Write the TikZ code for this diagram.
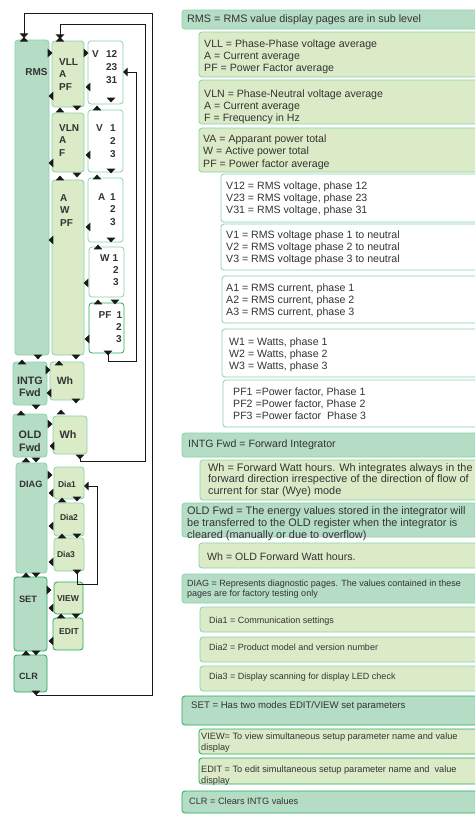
\documentclass[tikz,border=0pt]{standalone}
\usepackage{fontspec}
\setmainfont{Liberation Sans}
\usetikzlibrary{arrows.meta,calc}
\definecolor{dkg}{HTML}{B5DCC5}
\definecolor{ltg}{HTML}{DCEBC7}
\definecolor{bdl}{HTML}{86D4A8}
\definecolor{bdd}{HTML}{22AD5C}
\definecolor{txt}{HTML}{333333}
\newcommand\mybox[6]{\node[#2,anchor=north west,minimum width={(#5-#3)*1pt},minimum height={(#6-#4)*1pt},inner sep=0pt,outer sep=0pt] (#1) at (#3,#4) {};}
\tikzset{
  box/.style={rounded corners=3pt,line width=0.8pt},
  dkbox/.style={box,fill=dkg,draw=bdl},
  ltbox/.style={box,fill=ltg,draw=bdl},
  whbox/.style={box,fill=white,draw=bdl},
  dkboxb/.style={box,fill=dkg,draw=bdd},
  ltboxb/.style={box,fill=ltg,draw=bdd},
  whboxb/.style={box,fill=white,draw=bdd},
  rt/.style={font=\fontsize{10.6}{12}\selectfont,text=txt,inner sep=0pt,align=left},
  rs/.style={font=\fontsize{9}{10.5}\selectfont,text=txt,inner sep=0pt,align=left},
  lt/.style={font=\bfseries\fontsize{10}{12.5}\selectfont,text=txt,inner sep=0pt},
  conn/.style={draw=black!90,line width=0.8pt},
  tip/.style={-{Triangle[width=8.5pt,length=4.6pt]}},
  tu/.pic={\fill[black!90] (-4.3,2.3) -- (4.3,2.3) -- (0,-2.4) -- cycle;},
  td/.pic={\fill[black!90] (-4.3,-2.3) -- (4.3,-2.3) -- (0,2.4) -- cycle;},
  tl/.pic={\fill[black!90] (2.3,-4.4) -- (2.3,4.4) -- (-2.5,0) -- cycle;},
  tr/.pic={\fill[black!90] (-2.3,-4.4) -- (-2.3,4.4) -- (2.5,0) -- cycle;},
}
\begin{document}
\begin{tikzpicture}[x=1pt,y=-1pt]
\useasboundingbox (0,0) rectangle (475,815);
\clip (0,0) rectangle (475,815);
\fill[white] (0,0) rectangle (475,815);
% ---------- left column boxes
\mybox{lRMS}{dkbox}{15}{40}{49}{355}
\mybox{lVLL}{ltbox}{52}{41}{84}{107}
\mybox{lV12}{whbox}{88}{41}{123}{104}
\mybox{lVLN}{ltbox}{52}{113}{84}{172}
\mybox{lV1}{whbox}{88}{110}{123}{172}
\mybox{lAW}{ltbox}{52}{180}{84}{355}
\mybox{lA1}{whbox}{88}{178}{123}{242}
\mybox{lW1}{whbox}{89}{247}{124}{297}
\mybox{lPF}{whboxb}{89}{303}{124}{353}
\mybox{lINTG}{dkbox}{13}{362}{47}{405}
\mybox{lWhI}{ltbox}{50}{362}{84}{400}
\mybox{lOLD}{dkbox}{13}{414}{47}{457}
\mybox{lWhO}{ltbox}{53}{416}{87}{454}
\mybox{lDIAG}{dkbox}{16}{463}{47}{573}
\mybox{lDia1}{ltbox}{54}{467}{84}{499}
\mybox{lDia2}{ltbox}{54}{503}{84}{536}
\mybox{lDia3}{ltbox}{54}{538}{84}{571}
\mybox{lSET}{dkboxb}{14}{577}{47}{651}
\mybox{lVIEW}{ltboxb}{54}{582}{83}{614}
\mybox{lEDIT}{ltboxb}{53}{618}{83}{650}
\mybox{lCLR}{dkboxb}{14}{655}{47}{692}
% ---------- left column texts
\node[lt] (xRMS) at (36.5,72) {RMS};
\node[lt,anchor=north west,align=left] (xVLL) at (59,58.4) {VLL\\A\\PF};
\node[lt,anchor=west] (xV12a) at (92,54) {V};
\node[lt,anchor=north east,align=right,font=\bfseries\fontsize{10}{13}\selectfont] (xV12b) at (117.5,50.4) {12\\23\\31};
\node[lt,anchor=north west,align=left] (xVLN) at (59,124.4) {VLN\\A\\F};
\node[lt,anchor=west] (xV1a) at (96,128) {V};
\node[lt,anchor=north east,align=right,font=\bfseries\fontsize{10}{13}\selectfont] (xV1b) at (116,124.4) {1\\2\\3};
\node[lt,anchor=north west,align=left] (xAW) at (60,194.4) {A\\W\\PF};
\node[lt,anchor=west] (xA1a) at (98,197) {A};
\node[lt,anchor=north east,align=right] (xA1b) at (116,193.4) {1\\2\\3};
\node[lt,anchor=west] (xW1a) at (100,258) {W};
\node[lt,anchor=west] (xW1b) at (112.5,258) {1};
\node[lt,anchor=north east,align=right,font=\bfseries\fontsize{10}{12}\selectfont] (xW1c) at (119,266.4) {2\\3};
\node[lt,anchor=west] (xPFa) at (98.5,315) {PF};
\node[lt,anchor=west] (xPFb) at (116.5,315) {1};
\node[lt,anchor=north east,align=right,font=\bfseries\fontsize{10}{12}\selectfont] (xPFc) at (122,323.4) {2\\3};
\node[lt,align=center,font=\bfseries\fontsize{10.8}{12}\selectfont] (xINTG) at (30,387) {INTG\\Fwd};
\node[lt,font=\bfseries\fontsize{10.5}{12}\selectfont] (xWhI) at (65,381) {Wh};
\node[lt,align=center,font=\bfseries\fontsize{10.8}{13}\selectfont] (xOLD) at (30,441.5) {OLD\\Fwd};
\node[lt,font=\bfseries\fontsize{10.8}{12}\selectfont] (xWhO) at (68,435) {Wh};
\node[lt,font=\bfseries\fontsize{9.2}{10}\selectfont] (xDIAG) at (31,484) {DIAG};
\node[lt,font=\bfseries\fontsize{8.5}{9}\selectfont] (xDia1) at (67,484) {Dia1};
\node[lt,font=\bfseries\fontsize{8.5}{9}\selectfont] (xDia2) at (69,517) {Dia2};
\node[lt,font=\bfseries\fontsize{8.5}{9}\selectfont] (xDia3) at (66,554) {Dia3};
\node[lt,font=\bfseries\fontsize{9.2}{10}\selectfont] (xSET) at (28,599) {SET};
\node[lt,font=\bfseries\fontsize{8.6}{10}\selectfont] (xVIEW) at (68,599) {VIEW};
\node[lt,font=\bfseries\fontsize{8.6}{10}\selectfont] (xEDIT) at (69,632) {EDIT};
\node[lt,font=\bfseries\fontsize{9.1}{10}\selectfont] (xCLR) at (28.5,676) {CLR};
% ---------- navigation triangles
\foreach \p in {(60,110),(97,108),(97,177),(60,178),(98,247),(98,302),(22,362),(59,363),(21,413),(61,412),(26,460),(62,500),(62,536),(26,575),(61,616),(26,653),(24,39.3),(60,39.3)}
  \pic at \p {tu};
\foreach \p in {(111,100),(77,108),(111,171),(77,175),(111,240),(115,302),(108,353),(38,357),(76,357),(76,401),(36,407),(80,457),(36,460),(77,499),(77,536),(77,572),(36,575),(76,616),(36,653),(36,693)}
  \pic at \p {td};
\foreach \p in {(50,53),(86,53),(48,370),(50,424),(50,475),(49,590)}
  \pic at \p {tr};
\foreach \p in {(51,96),(88,87),(51,163),(88,155),(88,227),(51,240),(86,283),(87,339),(49,393),(52,446),(51,493),(51,526),(51,562),(51,608),(51,641)}
  \pic at \p {tl};
% ---------- loop connectors
\draw[conn,tip] ([shift={(5.5pt,-3pt)}]lCLR.south) -- (152,695) -- (152,13) -| ([shift={(-8pt,2pt)}]lRMS.north);
\draw[conn,tip] ([shift={(-7pt,-5pt)}]lWhO.south east) |- (145,461) -- (145,24) -| ([shift={(-8pt,2pt)}]lVLL.north);
\draw[conn,tip] ([xshift=1.5pt]lPF.south) |- (136,361) |- ([yshift=0.5pt]lV12.east);
\draw[conn,tip] ([xshift=8pt]lDia3.south) |- (97,584) |- ([yshift=-3pt]lDia1.east);
% ---------- right column boxes
\mybox{rRMS}{dkbox}{182}{10}{480}{29}
\mybox{rVLL}{ltbox}{199}{32}{480}{77}
\mybox{rVLN}{ltbox}{199}{80}{480}{124}
\mybox{rVA}{ltbox}{199}{128}{480}{172}
\mybox{rV12}{whbox}{221}{174}{480}{222}
\mybox{rV1}{whbox}{221}{224}{480}{270}
\mybox{rA1}{whbox}{222}{276}{480}{323}
\mybox{rW1}{whbox}{222}{329}{480}{377}
\mybox{rPF}{whbox}{223}{380}{480}{427}
\mybox{rINTG}{dkbox}{182}{433}{480}{457}
\mybox{rWh}{ltbox}{200}{460}{480}{500}
\mybox{rOLD}{dkbox}{182}{503}{480}{537}
\mybox{rWhO}{ltbox}{199}{543}{480}{568}
\mybox{rDIAG}{dkbox}{182}{574}{480}{603}
\mybox{rDia1}{ltbox}{200}{607}{480}{632}
\mybox{rDia2}{ltbox}{200}{637}{480}{662}
\mybox{rDia3}{ltbox}{200}{666}{480}{691}
\mybox{rSET}{dkboxb}{182}{696}{480}{725}
\mybox{rVIEW}{ltboxb}{199}{729}{480}{754}
\mybox{rEDIT}{ltboxb}{199}{758}{480}{784}
\mybox{rCLR}{dkboxb}{182}{791}{480}{813}
% ---------- right column texts
\node[rt,anchor=base west,font=\fontsize{10.8}{12}\selectfont] (yRMS) at (187,22.8) {RMS = RMS value display pages are in sub level};
\node[rt,anchor=north west] (yVLL) at (204,39.2) {VLL = Phase-Phase voltage average\\A = Current average\\PF = Power Factor average};
\node[rt,anchor=north west] (yVLN) at (204,89.2) {VLN = Phase-Neutral voltage average\\A = Current average\\F = Frequency in Hz};
\node[rt,anchor=north west,font=\fontsize{10.6}{12.5}\selectfont] (yVA) at (203,134.2) {VA = Apparant power total\\W = Active power total\\PF = Power factor average};
\node[rt,anchor=north west] (yV12) at (226,181.2) {V12 = RMS voltage, phase 12\\V23 = RMS voltage, phase 23\\V31 = RMS voltage, phase 31};
\node[rt,anchor=north west] (yV1) at (226,230.2) {V1 = RMS voltage phase 1 to neutral\\V2 = RMS voltage phase 2 to neutral\\V3 = RMS voltage phase 3 to neutral};
\node[rt,anchor=north west] (yA1) at (226,283.2) {A1 = RMS current, phase 1\\A2 = RMS current, phase 2\\A3 = RMS current, phase 3};
\node[rt,anchor=north west] (yW1) at (229,337.2) {W1 = Watts, phase 1\\W2 = Watts, phase 2\\W3 = Watts, phase 3};
\node[rt,anchor=north west] (yPF) at (233,387.2) {PF1 =Power factor, Phase 1\\PF2 =Power factor, Phase 2\\PF3 =Power factor\ \ Phase 3};
\node[rt,anchor=base west] (yINTG) at (188,447.8) {INTG Fwd = Forward Integrator};
\node[rt,anchor=north west,font=\fontsize{10.9}{11.5}\selectfont] (yWh) at (208,463.2) {Wh = Forward Watt hours. Wh integrates always in the\\forward direction irrespective of the direction of flow of\\current for star (Wye) mode};
\node[rt,anchor=north west,font=\fontsize{10.9}{12}\selectfont] (yOLD) at (187,506.2) {OLD Fwd = The energy values stored in the integrator will\\be transferred to the OLD register when the integrator is\\cleared (manually or due to overflow)};
\node[rt,anchor=base west] (yWhO) at (207,560.8) {Wh = OLD Forward Watt hours.};
\node[rs,anchor=north west,font=\fontsize{9}{10}\selectfont] (yDIAG) at (187,579.7) {DIAG = Represents diagnostic pages. The values contained in these\\pages are for factory testing only};
\node[rs,anchor=base west] (yDia1) at (209,623.2) {Dia1 = Communication settings};
\node[rs,anchor=base west] (yDia2) at (209,650.2) {Dia2 = Product model and version number};
\node[rs,anchor=base west] (yDia3) at (209,679.2) {Dia3 = Display scanning for display LED check};
\node[rs,anchor=base west,font=\fontsize{9.6}{11}\selectfont] (ySET) at (191,708.4) {SET = Has two modes EDIT/VIEW set parameters};
\node[rs,anchor=north west,font=\fontsize{9.2}{11}\selectfont] (yVIEW) at (201,732.7) {VIEW= To view simultaneous setup parameter name and value\\display};
\node[rs,anchor=north west,font=\fontsize{9.2}{11}\selectfont] (yEDIT) at (201,765.7) {EDIT = To edit simultaneous setup parameter name and\ \ value\\display};
\node[rs,anchor=base west,font=\fontsize{9.2}{11}\selectfont] (yCLR) at (189,804.3) {CLR = Clears INTG values};
\end{tikzpicture}
\end{document}
